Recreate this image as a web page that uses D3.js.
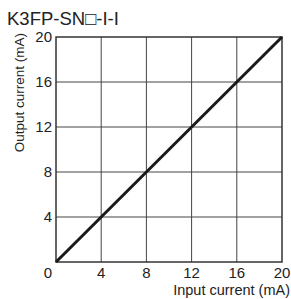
<!DOCTYPE html>
<html>
<head>
<meta charset="utf-8">
<script src="https://cdn.jsdelivr.net/npm/d3@7"></script>
<style>
  body { margin: 0; background: #fff; }
  svg text { font-family: "Liberation Sans", Arial, sans-serif; fill: #222; }
</style>
</head>
<body>
<div id="chart"></div>
<script>
// chart data
var title = "K3FP-SN\u25A1-I-I";
var xTicks = [0, 4, 8, 12, 16, 20];
var yTicks = [4, 8, 12, 16, 20];
var inputCurrent = [0, 20];   // mA
var outputCurrent = [0, 20];  // mA

var width = 291, height = 299;
var plot = {left: 56, top: 37, right: 282, bottom: 262};

var svg = d3.select('#chart').append('svg')
  .attr('width', width).attr('height', height);

var x = d3.scaleLinear().domain([0, 20]).range([plot.left, plot.right]);
var y = d3.scaleLinear().domain([0, 20]).range([plot.bottom, plot.top]);

// title
svg.append('text')
  .attr('x', 7).attr('y', 25)
  .style('font-size', '18.5px')
  .text(title);

// grid
svg.append('g').selectAll('line')
  .data(xTicks.slice(1, -1))
  .enter().append('line')
  .attr('x1', x).attr('x2', x)
  .attr('y1', plot.top).attr('y2', plot.bottom)
  .style('stroke', '#444').style('stroke-width', 1);

svg.append('g').selectAll('line')
  .data(yTicks.slice(0, -1))
  .enter().append('line')
  .attr('y1', y).attr('y2', y)
  .attr('x1', plot.left).attr('x2', plot.right)
  .style('stroke', '#444').style('stroke-width', 1);

// frame
svg.append('rect')
  .attr('x', plot.left).attr('y', plot.top)
  .attr('width', plot.right - plot.left).attr('height', plot.bottom - plot.top)
  .style('fill', 'none').style('stroke', '#333').style('stroke-width', 1.5);

// tick labels
svg.append('g').selectAll('text')
  .data(xTicks)
  .enter().append('text')
  .attr('x', function(d) { return d === 0 ? x(d) - 8 : x(d); })
  .attr('y', 278)
  .attr('text-anchor', 'middle')
  .style('font-size', '15px')
  .text(function(d) { return d; });

svg.append('g').selectAll('text')
  .data(yTicks)
  .enter().append('text')
  .attr('x', plot.left - 4)
  .attr('y', function(d) { return y(d) + 5; })
  .attr('text-anchor', 'end')
  .style('font-size', '15px')
  .text(function(d) { return d; });

// axis titles (anchored to the far ends of the axes)
svg.append('text')
  .attr('x', 290).attr('y', 295)
  .attr('text-anchor', 'end')
  .style('font-size', '14.5px')
  .text('Input current (mA)');

svg.append('text')
  .attr('transform', 'translate(24,33) rotate(-90)')
  .attr('text-anchor', 'end')
  .style('font-size', '13.5px')
  .text('Output current (mA)');

// line
var pts = inputCurrent.map(function(d, i) { return [d, outputCurrent[i]]; });
svg.append('path')
  .datum(pts)
  .attr('d', d3.line().x(function(d) { return x(d[0]); }).y(function(d) { return y(d[1]); }))
  .style('fill', 'none').style('stroke', '#1a1a1a').style('stroke-width', 3);
</script>
</body>
</html>
